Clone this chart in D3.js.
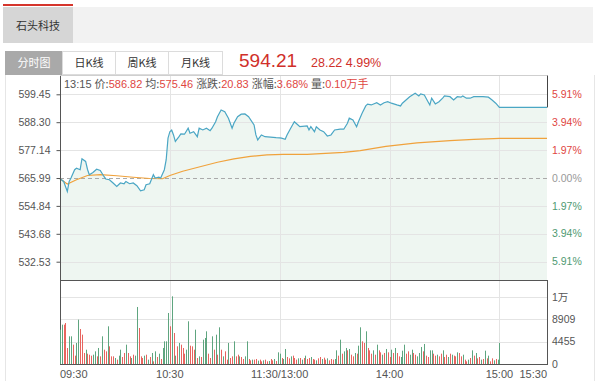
<!DOCTYPE html>
<html>
<head>
<meta charset="utf-8">
<script src="https://cdn.jsdelivr.net/npm/d3@7"></script>
<style>
  body { margin: 0; background: #fff; }
  svg { display: block; font-family: "Liberation Sans", Arial, "Noto Sans CJK SC", sans-serif; }
</style>
</head>
<body>
<svg width="600" height="381"></svg>
<script>
var stockName = "石头科技";
var tabNames = ["分时图", "日K线", "周K线", "月K线"];
var lastPrice = 594.21;
var changeText = ["28.22", "4.99%"];
var basePrice = 565.99;

var infoTime = "13:15";
var infoLabels = ["价:", "均:", "涨跌:", "涨幅:", "量:"];
var infoValues = ["586.82", "575.46", "20.83", "3.68%", "0.10万手"];

var priceTicks = [599.45, 588.30, 577.14, 565.99, 554.84, 543.68, 532.53];
var pctLabels = ["5.91%", "3.94%", "1.97%", "0.00%", "1.97%", "3.94%", "5.91%"];
var volTicks = [0, 4455, 8909, 13364];
var volLabels = ["0", "4455", "8909", "1万"];
var timeTicks = ["09:30", "10:30", "11:30", "14:00", "15:00", "15:30"];
var timeLabels = ["09:30", "10:30", "11:30/13:00", "14:00", "15:00", "15:30"];

// price line
var priceTimes = ["09:30","09:32","09:34","09:35","09:36","09:38","09:39","09:41","09:42","09:44",
  "09:45","09:46","09:48","09:50","09:52","09:54","09:55","09:57","09:59","10:01",
  "10:03","10:05","10:06","10:08","10:10","10:12","10:14","10:16","10:17","10:19",
  "10:21","10:22","10:24","10:25","10:27","10:28","10:29","10:30","10:31","10:32",
  "10:33","10:35","10:36","10:38","10:40","10:41","10:43","10:45","10:46","10:48",
  "10:50","10:52","10:53","10:55","10:56","10:58","11:00","11:02","11:04","11:05",
  "11:07","11:09","11:11","11:13","11:16","11:17","11:18","11:20","11:22","11:25",
  "11:28","11:30","13:01","13:03","13:04","13:06","13:08","13:10","13:11","13:15",
  "13:16","13:17","13:19","13:20","13:22","13:24","13:26","13:28","13:30","13:33",
  "13:35","13:37","13:38","13:40","13:42","13:43","13:45","13:47","13:48","13:50",
  "13:53","13:55","13:57","13:59","14:01","14:04","14:06","14:07","14:09","14:11",
  "14:14","14:16","14:17","14:19","14:21","14:22","14:23","14:25","14:27","14:29",
  "14:30","14:33","14:35","14:37","14:39","14:40","14:42","14:44","14:46","14:48",
  "14:51","14:54","14:56","14:58","15:00","15:05","15:30"];
var priceValues = [565.7,564.6,560.6,564.6,566.0,569.3,569.9,569.3,573.7,572.6,
  569.5,567.3,568.2,569.5,569.0,566.6,565.6,565.3,564.0,562.6,
  564.0,563.7,564.6,563.7,564.0,562.9,560.9,561.3,563.3,563.7,
  567.3,566.0,566.3,566.0,569.3,573.3,581.9,584.5,585.2,583.2,
  580.6,582.5,583.6,583.5,585.9,583.9,584.5,582.5,585.9,585.2,
  585.9,584.9,585.9,588.5,590.5,593.2,592.5,589.9,585.9,587.9,
  590.5,591.5,591.6,590.5,587.2,583.2,581.2,583.2,582.5,582.3,
  582.1,582.0,581.9,581.5,583.2,585.9,588.5,587.2,586.5,586.82,
  585.2,586.5,584.5,586.5,585.2,584.5,582.8,583.2,585.2,585.5,
  585.5,587.9,589.9,589.2,586.5,588.5,591.9,594.8,595.5,595.2,
  596.1,595.2,596.1,596.5,595.9,595.2,594.8,595.9,597.2,598.5,
  599.9,598.8,599.6,599.2,596.5,595.2,597.9,595.6,596.5,597.9,
  598.8,598.5,597.2,598.5,598.3,598.8,597.9,597.9,598.5,598.5,
  598.5,598.3,597.2,595.9,594.21,594.21,594.21];

// average price line
var avgTimes = ["09:30","09:34","09:39","09:45","09:52","10:01","10:10","10:19","10:26","10:30",
  "10:37","10:47","10:56","11:05","11:14","11:23","13:02","13:15","13:35","13:44",
  "13:58","14:15","14:33","14:46","14:57","15:00","15:30"];
var avgValues = [565.7,563.6,565.3,567.0,567.3,566.9,566.3,565.8,565.7,567.0,
  568.7,570.6,572.3,573.6,574.6,575.2,575.4,575.46,576.2,576.9,
  578.6,580.0,580.9,581.4,581.7,581.8,581.8];

// volume per minute, 09:30 .. 15:00 (241 bars)
var volumes = [6860,7860,7860,8190,3200,5530,5530,3860,1665,4200,
  8860,6990,5860,2200,2860,2060,1860,1665,1860,2530,
  1530,3200,1530,5530,2860,2530,7530,3530,1530,1530,
  1200,870,1665,2860,1400,2200,3860,2200,1530,1200,
  1860,1665,11390,7190,1530,1200,1665,1860,870,1400,
  2200,530,2530,1400,2060,1000,3200,4530,4530,10190,
  7530,13520,6190,1665,3530,4200,3860,3200,2060,2860,
  8530,3660,3530,2860,6860,1200,1530,1400,4860,5200,
  6530,2060,1200,5530,2860,5860,1860,7330,2860,1530,
  2530,870,4200,1200,1530,4530,1530,1860,1530,1400,
  1000,1530,4530,1000,730,870,870,1000,670,870,
  530,730,870,530,600,1000,730,1000,600,2330,
  2060,1200,1000,3000,1400,1130,1530,1665,1200,870,1130,
  1200,870,1200,1665,1000,1200,1400,1000,870,730,
  1130,1400,1000,1265,870,1130,730,1000,
  870,1000,
  2730,1665,4860,2060,2530,3200,2730,3000,1860,1530,
  2200,2060,3660,7330,4530,4200,6530,3200,2730,2060,
  2730,1860,3860,2730,2330,1860,2200,3000,2330,1400,
  2860,2200,3200,2200,1530,1400,2660,3860,2060,2530,
  1860,2860,2200,1860,1530,2200,3400,2530,4000,1665,
  1400,2730,2730,2060,1665,1860,1530,2060,2730,1400,
  1860,1400,2060,1860,1665,1530,2330,2200,1530,1860,
  870,530,870,1200,2730,1665,2200,1130,1400,870,
  1000,2660,1130,1665,530,
  1130,730,1000,870,4200];
var volSide = ("ggrrrggrrg" + "grrrgrrrgg" + "rgrgrrgrrr" + "grggrrgrrg" + "rggrrrgrgr" +
  "grgrgrgggg" + "rgrgrgrrrg" + "grrrgrgrgg" + "grrgrgrgrg" + "rrgrrgrrgr" +
  "rggrrgrrgr" + "rgrrgrrgrg" + "grggrrgrrrg" +
  "rgrgrrgrrgrrgrrgrr" + "rg" +
  "grgrggrgrr" + "grggrrgrrr" + "grgrrgrgrr" + "grgrrgggrr" + "ggrrgggrgr" +
  "rggrrgrrgr" + "rgrgrrgrrg" + "rrgrgrgrrg" + "rgrgr" + "rgrgg").split("");

// minute index on the time axis (11:30 and 13:00 share a slot, after-hours 15:05-15:30)
var minuteIndex = (t) => {
  var p = t.split(":");
  var m = +p[0] * 60 + +p[1];
  if (m <= 690) return m - 570;
  if (m <= 900) return 120 + (m - 780);
  return 241 + (m - 905);
};

var svg = d3.select("svg");
var left = 60, right = 547;
var priceTop = 76, priceBottom = 280, volBottom = 364;

var xScale = d3.scaleLinear().domain([0, 266]).range([left, right]);
var yPrice = d3.scaleLinear().domain([basePrice - 40.78, basePrice + 40.78]).range([priceBottom, priceTop]);
var yVol = d3.scaleLinear().domain([0, 16780]).range([volBottom, priceBottom]);

var red = "#e0463f", green = "#4f9a72", grid = "#e4e4e4", textGrey = "#555";

/* header with stock tab */
svg.append("rect").attr("x", 3).attr("y", 7).attr("width", 590).attr("height", 36).attr("fill", "#f2f2f2");
svg.append("rect").attr("x", 3).attr("y", 7).attr("width", 70).attr("height", 36).attr("fill", "#d6d6d6");
svg.append("rect").attr("x", 3).attr("y", 4).attr("width", 70).attr("height", 2).attr("fill", "#d5352c");
svg.append("text").attr("x", 38).attr("y", 30).attr("text-anchor", "middle")
  .attr("font-size", 11).attr("fill", "#333").attr("font-family", "Noto Sans CJK SC").text(stockName);

/* outer container lines */
svg.append("line").attr("x1", 5.5).attr("x2", 5.5).attr("y1", 75).attr("y2", 381).attr("stroke", "#e6e6e6");
svg.append("line").attr("x1", 594.5).attr("x2", 594.5).attr("y1", 75).attr("y2", 381).attr("stroke", "#e6e6e6");

/* chart type tabs */
var tabX = [5, 62, 115, 168, 222];
tabNames.forEach((name, i) => {
  svg.append("rect")
    .attr("x", tabX[i] + 0.5).attr("y", 51.5)
    .attr("width", tabX[i + 1] - tabX[i]).attr("height", 23)
    .attr("fill", i == 0 ? "#a9a9a9" : "#fff")
    .attr("stroke", i == 0 ? "#a9a9a9" : "#dcdcdc");
  svg.append("text")
    .attr("x", (tabX[i] + tabX[i + 1]) / 2 + 0.5).attr("y", 67)
    .attr("text-anchor", "middle").attr("font-size", 11)
    .attr("font-family", "Noto Sans CJK SC")
    .attr("fill", i == 0 ? "#fff" : "#333").text(name);
});

svg.append("text").attr("x", 239).attr("y", 67).attr("font-size", 19).attr("fill", "#d0302a")
  .text(lastPrice.toFixed(2));
svg.append("text").attr("x", 311).attr("y", 67).attr("font-size", 12.5).attr("fill", "#d0302a")
  .text(changeText.join(" "));

/* price panel frame */
svg.append("line").attr("x1", left).attr("x2", right).attr("y1", priceTop - 0.5).attr("y2", priceTop - 0.5)
  .attr("stroke", "#cfcfcf");
svg.append("line").attr("x1", right + 0.5).attr("x2", right + 0.5)
  .attr("y1", priceTop - 0.5).attr("y2", yPrice(lastPrice)).attr("stroke", "#444");

var pricePoints = priceTimes.map((t, i) => [minuteIndex(t), priceValues[i]]);
var avgPoints = avgTimes.map((t, i) => [minuteIndex(t), avgValues[i]]);

var area = d3.area()
  .x((d) => xScale(d[0]))
  .y0(priceBottom)
  .y1((d) => yPrice(d[1]));
svg.append("path").datum(pricePoints).attr("d", area).attr("fill", "#eef6f1");

// gridlines
svg.append("g").selectAll("line").data(priceTicks).enter().append("line")
  .attr("x1", left).attr("x2", right)
  .attr("y1", (d) => Math.round(yPrice(d)) + 0.5).attr("y2", (d) => Math.round(yPrice(d)) + 0.5)
  .attr("stroke", (d) => d == basePrice ? "#aaa" : grid)
  .attr("stroke-dasharray", (d) => d == basePrice ? "4,3" : null);

var vTicks = timeTicks.slice(1, 5).map(minuteIndex);
svg.append("g").selectAll("line").data(vTicks).enter().append("line")
  .attr("x1", (d) => Math.round(xScale(d)) + 0.5).attr("x2", (d) => Math.round(xScale(d)) + 0.5)
  .attr("y1", priceTop).attr("y2", volBottom)
  .attr("stroke", grid);

svg.append("g").selectAll("line").data(volTicks.slice(1)).enter().append("line")
  .attr("x1", left).attr("x2", right)
  .attr("y1", (d) => Math.round(yVol(d)) + 0.5).attr("y2", (d) => Math.round(yVol(d)) + 0.5)
  .attr("stroke", grid);

var line = d3.line().x((d) => xScale(d[0])).y((d) => yPrice(d[1]));
svg.append("path").datum(avgPoints).attr("d", line)
  .attr("fill", "none").attr("stroke", "#f0a23c").attr("stroke-width", 1.2);
svg.append("path").datum(pricePoints).attr("d", line)
  .attr("fill", "none").attr("stroke", "#4aa6c4").attr("stroke-width", 1.2);

/* left price axis */
var yAxis = d3.axisLeft(yPrice).tickValues(priceTicks).tickSize(4).tickPadding(6)
  .tickFormat(d3.format(".2f"));
var gy = svg.append("g").attr("transform", "translate(" + (left + 0.5) + ",0)").call(yAxis);
gy.select(".domain").attr("d", "M0," + priceTop + "V" + volBottom).attr("stroke", "#555");
gy.selectAll(".tick line").attr("stroke", "#555");
gy.selectAll("text").attr("font-size", 10.5).attr("fill", textGrey).attr("font-family", "Liberation Sans");

/* right percent labels */
svg.append("g").selectAll("text").data(priceTicks).enter().append("text")
  .attr("x", right + 5).attr("y", (d) => yPrice(d)).attr("dy", "0.35em")
  .attr("font-size", 10.5)
  .attr("fill", (d) => d > basePrice ? red : d < basePrice ? green : "#999")
  .text((d, i) => pctLabels[i]);

/* info line */
var info = svg.append("text").attr("x", 64).attr("y", 88).attr("font-size", 11)
  .attr("font-family", "Liberation Sans, Noto Sans CJK SC");
info.append("tspan").attr("fill", textGrey).text(infoTime + " ");
infoLabels.forEach((lab, i) => {
  info.append("tspan").attr("fill", textGrey).attr("font-family", "Noto Sans CJK SC").text(lab);
  info.append("tspan").attr("fill", red).text(infoValues[i] + (i < infoLabels.length - 1 ? " " : ""));
});

/* volume panel */
svg.append("rect").attr("x", left + 0.5).attr("y", priceBottom + 0.5)
  .attr("width", right - left).attr("height", volBottom - priceBottom)
  .attr("fill", "none").attr("stroke", "#555");

svg.append("g").selectAll("rect").data(volumes).enter().append("rect")
  .attr("x", (d, i) => Math.round(xScale(i)))
  .attr("y", (d) => yVol(d))
  .attr("width", 1)
  .attr("height", (d) => volBottom - yVol(d))
  .attr("fill", (d, i) => volSide[i] == "r" ? "#e8645f" : "#5ea57f");

svg.append("g").selectAll("text").data(volTicks).enter().append("text")
  .attr("x", right + 5).attr("y", (d) => yVol(d)).attr("dy", "0.35em")
  .attr("font-size", 10.5).attr("fill", textGrey)
  .attr("font-family", "Liberation Sans, Noto Sans CJK SC")
  .text((d, i) => volLabels[i]);

/* time labels */
svg.append("g").selectAll("text").data(timeTicks).enter().append("text")
  .attr("x", (d) => xScale(minuteIndex(d)))
  .attr("y", 378)
  .attr("font-size", 11).attr("fill", textGrey)
  .attr("text-anchor", (d, i) => i == 0 ? "start" : i == timeTicks.length - 1 ? "end" : "middle")
  .text((d, i) => timeLabels[i]);
</script>
</body>
</html>
